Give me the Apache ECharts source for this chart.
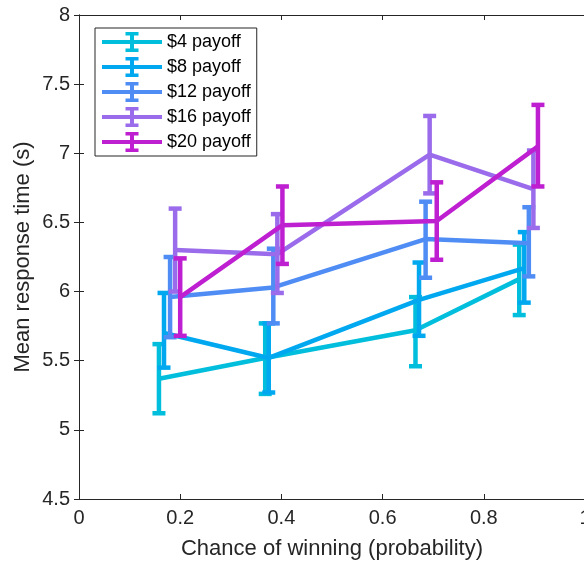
<!DOCTYPE html>
<html>
<head>
<meta charset="utf-8">
<script src="https://cdn.jsdelivr.net/npm/echarts@6/dist/echarts.min.js"></script>
<style>
html,body{margin:0;padding:0;background:#fff;}
#chart{width:584px;height:565px;}
</style>
</head>
<body>
<div id="chart"></div>
<script>
const seriesNames = ['$4 payoff', '$8 payoff', '$12 payoff', '$16 payoff', '$20 payoff'];
const colors = ['#00BEDC', '#00A8F0', '#4F8DF5', '#9A6CEB', '#BE1FD0'];

const xs4 = [0.158, 0.368, 0.665, 0.870];
const mean4 = [5.37, 5.52, 5.72, 6.09];
const lo4 = [5.12, 5.26, 5.46, 5.83];
const hi4 = [5.62, 5.77, 5.96, 6.34];

const xs8 = [0.168, 0.375, 0.672, 0.880];
const mean8 = [5.70, 5.52, 5.94, 6.17];
const lo8 = [5.45, 5.27, 5.68, 5.92];
const hi8 = [5.99, 5.77, 6.21, 6.43];

const xs12 = [0.180, 0.384, 0.685, 0.889];
const mean12 = [5.96, 6.03, 6.38, 6.35];
const lo12 = [5.67, 5.77, 6.10, 6.11];
const hi12 = [6.25, 6.31, 6.65, 6.61];

const xs16 = [0.190, 0.392, 0.693, 0.898];
const mean16 = [6.30, 6.27, 6.99, 6.74];
const lo16 = [6.00, 5.99, 6.71, 6.46];
const hi16 = [6.60, 6.56, 7.27, 7.02];

const xs20 = [0.200, 0.402, 0.707, 0.907];
const mean20 = [5.96, 6.48, 6.51, 7.05];
const lo20 = [5.68, 6.20, 6.23, 6.76];
const hi20 = [6.24, 6.76, 6.79, 7.35];

const xTicks = [0, 0.2, 0.4, 0.6, 0.8, 1];
const yTicks = [4.5, 5, 5.5, 6, 6.5, 7, 7.5, 8];

const groups = [
  [xs4, mean4, lo4, hi4],
  [xs8, mean8, lo8, hi8],
  [xs12, mean12, lo12, hi12],
  [xs16, mean16, lo16, hi16],
  [xs20, mean20, lo20, hi20]
];

const FONT = '"Liberation Sans", Arial, Helvetica, sans-serif';
const AXC = '#262626';

const legendIcon = 'path://M0,8h60v4h-60z M28,0h4v20h-4z M23.5,0h13v3.5h-13z M23.5,16.5h13v3.5h-13z';

const series = [];
groups.forEach((g, i) => {
  const [xs, m, lo, hi] = g;
  series.push({
    name: seriesNames[i],
    type: 'line',
    data: xs.map((x, k) => [x, m[k]]),
    symbol: 'none',
    lineStyle: { width: 4.5, color: colors[i] },
    itemStyle: { color: colors[i] },
    z: 2 + i * 2,
    animation: false
  });
  series.push({
    name: seriesNames[i],
    type: 'custom',
    data: xs.map((x, k) => [x, lo[k], hi[k]]),
    encode: { x: 0, y: [1, 2] },
    itemStyle: { color: colors[i] },
    clip: false,
    z: 3 + i * 2,
    animation: false,
    renderItem: function (params, api) {
      const x = api.value(0);
      const top = api.coord([x, api.value(2)]);
      const bot = api.coord([x, api.value(1)]);
      const hw = 6.5;
      const st = { stroke: colors[i], lineWidth: 4.5, fill: null };
      return {
        type: 'group',
        children: [
          { type: 'line', shape: { x1: top[0], y1: top[1], x2: bot[0], y2: bot[1] }, style: st },
          { type: 'line', shape: { x1: top[0] - hw, y1: top[1], x2: top[0] + hw, y2: top[1] }, style: st },
          { type: 'line', shape: { x1: bot[0] - hw, y1: bot[1], x2: bot[0] + hw, y2: bot[1] }, style: st }
        ]
      };
    }
  });
});

const axisCommon = {
  axisLine: { show: true, lineStyle: { color: AXC, width: 1 } },
  axisTick: { show: true, inside: true, length: 5, lineStyle: { color: AXC, width: 1 } },
  splitLine: { show: false }
};

const option = {
  backgroundColor: '#fff',
  animation: false,
  grid: { left: 79, top: 15, right: -1, bottom: 66, containLabel: false, outerBoundsMode: 'none' },
  legend: {
    data: seriesNames,
    orient: 'vertical',
    left: 95,
    top: 28,
    padding: [4, 6, 4, 7],
    itemGap: 5,
    itemWidth: 60,
    itemHeight: 20,
    icon: legendIcon,
    itemStyle: { borderWidth: 0 },
    backgroundColor: '#fff',
    borderColor: AXC,
    borderWidth: 1,
    borderRadius: 0,
    selectedMode: false,
    textStyle: { fontFamily: FONT, fontSize: 18, color: '#000', padding: [0, 0, 0, 0] }
  },
  xAxis: [
    Object.assign({
      type: 'value', min: 0, max: 1, interval: 0.2, position: 'bottom',
      name: 'Chance of winning (probability)', nameLocation: 'middle', nameGap: 39,
      nameMoveOverlap: false,
      nameTextStyle: { fontFamily: FONT, fontSize: 22, color: AXC },
      axisLabel: {
        fontFamily: FONT, fontSize: 20, color: AXC, margin: 9, hideOverlap: false,
        formatter: v => { const t = xTicks.find(tt => Math.abs(tt - v) < 1e-9); return t === undefined ? '' : String(t); }
      }
    }, axisCommon),
    Object.assign({
      type: 'value', min: 0, max: 1, interval: 0.2, position: 'top',
      axisLabel: { show: false }
    }, axisCommon)
  ],
  yAxis: [
    Object.assign({
      type: 'value', min: 4.5, max: 8, interval: 0.5, position: 'left',
      name: 'Mean response time (s)', nameLocation: 'middle', nameGap: 45,
      nameMoveOverlap: false,
      nameTextStyle: { fontFamily: FONT, fontSize: 22, color: AXC },
      axisLabel: {
        fontFamily: FONT, fontSize: 20, color: AXC, margin: 9,
        formatter: v => { const t = yTicks.find(tt => Math.abs(tt - v) < 1e-9); return t === undefined ? '' : String(t); }
      }
    }, axisCommon),
    Object.assign({
      type: 'value', min: 4.5, max: 8, interval: 0.5, position: 'right',
      axisLabel: { show: false }
    }, axisCommon)
  ],
  series: series
};

const chart = echarts.init(document.getElementById('chart'), null, { renderer: 'canvas' });
chart.setOption(option);
</script>
</body>
</html>
